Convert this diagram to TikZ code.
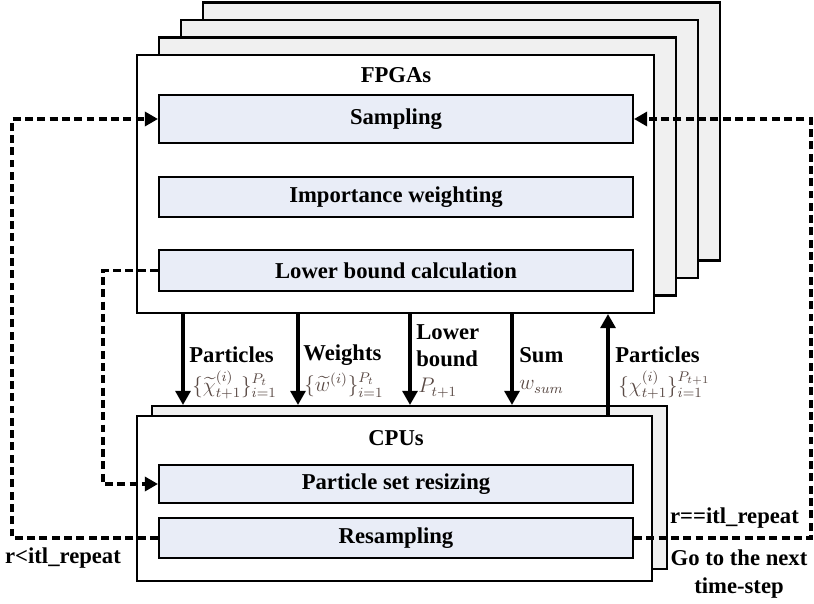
\documentclass[tikz,border=0pt]{standalone}
\usepackage{amsmath}
\usepackage{fontspec}
\setmainfont{Liberation Serif}
\usepackage{xcolor}
\usetikzlibrary{arrows.meta,positioning}

\definecolor{stackgray}{HTML}{F0F0F0}
\definecolor{stagefill}{HTML}{E9EDF7}
\definecolor{symcol}{HTML}{5A4A45}

\begin{document}
\begin{tikzpicture}[
x=0.02cm, y=-0.02cm,
font=\fontsize{12.9}{15.5}\selectfont\bfseries,
unit/.style={draw, line width=1.2pt, inner sep=0pt},
stage/.style={draw, line width=1.2pt, fill=stagefill, inner sep=0pt, minimum width=9.48cm},
flow/.style={-{Triangle[length=8pt, width=8.5pt]}, line width=1.8pt},
loop/.style={-{Triangle[length=7.5pt, width=8pt]}, line width=2.2pt, dash pattern=on 4.5pt off 2.5pt},
lbl/.style={anchor=west, align=left, inner sep=0pt},
sym/.style={anchor=west, inner sep=0pt, text=symcol, font=\fontsize{12}{14}\selectfont}
]
\useasboundingbox (0,0) rectangle (814,604);

% FPGA boards, stacked behind the front one
\foreach \k in {3,2,1}
  \node[unit, fill=stackgray, minimum width=10.34cm, minimum height=5.16cm] (fpga\k) at (395.5+22*\k, 184-17.5*\k) {};
\node[unit, fill=white, minimum width=10.34cm, minimum height=5.16cm] (fpga) at (395.5,184) {};
\node (fpgatitle) at (396,75) {FPGAs};
\node[stage, minimum height=0.96cm] (sampling) at (396,119) {Sampling};
\node[stage, minimum height=0.8cm] (weighting) at (396,197) {Importance weighting};
\node[stage, minimum height=0.82cm] (lowerbound) at (396,270.5) {Lower bound calculation};

% CPU side
\node[unit, fill=stackgray, minimum width=10.3cm, minimum height=3.26cm] (cpuback) at (409.5,487.5) {};
\node[unit, fill=white, minimum width=10.3cm, minimum height=3.3cm] (cpu) at (394.5,498.5) {};
\node (cputitle) at (396,438) {CPUs};
\node[stage, minimum height=0.76cm] (resizing) at (396,484) {Particle set resizing};
\node[stage, minimum height=0.8cm] (resampling) at (396,538) {Resampling};

% transfers between FPGAs and CPUs
\foreach \x/\n in {183/1, 298/2, 410/3, 512/4, 608/5}
  \coordinate (tap\n) at (\x,0);
\foreach \n in {1,...,4}
  \draw[flow] (tap\n |- fpga.south) -- (tap\n |- cpuback.north);
\draw[flow] (tap5 |- cpu.north) -- (tap5 |- fpga.south);

\node[lbl] (lblparticles) at (189,355) {Particles};
\node[sym] (symparticles) at (192,385) {$\{\widetilde{\chi}^{(i)}_{t+1}\}_{i=1}^{P_t}$};
\node[lbl] (lblweights) at (303,355) {Weights};
\node[sym] (symweights) at (304,385) {$\{\widetilde{w}^{(i)}\}_{i=1}^{P_t}$};
\node[lbl] (lblbound) at (416,346) {Lower\\bound};
\node[sym] (symbound) at (418,388) {$P_{t+1}$};
\node[lbl] (lblsum) at (519,355) {Sum};
\node[sym] (symsum) at (519,387) {$w_{sum}$};
\node[lbl] (lblnew) at (615,355) {Particles};
\node[sym] (symnew) at (618,385) {$\{\chi^{(i)}_{t+1}\}_{i=1}^{P_{t+1}}$};

% iteration loops
\coordinate (loopL) at (12,0);
\coordinate (loopM) at (103,0);
\coordinate (loopR) at (811,0);
\draw[loop] (resampling.west) -- (resampling.west -| loopL) |- (sampling.west);
\draw[loop] (lowerbound.west) -- (lowerbound.west -| loopM) |- (resizing.west);
\draw[loop] (resampling.east) -- (resampling.east -| loopR) |- (sampling.east);

\node (repeatless) at (63,558) {r<itl\_repeat};
\node[anchor=east] (repeatdone) at (805,518) {r==itl\_repeat};
\node[align=center] (nextstep) at (739,574) {Go to the next\\time-step};
\end{tikzpicture}
\end{document}
